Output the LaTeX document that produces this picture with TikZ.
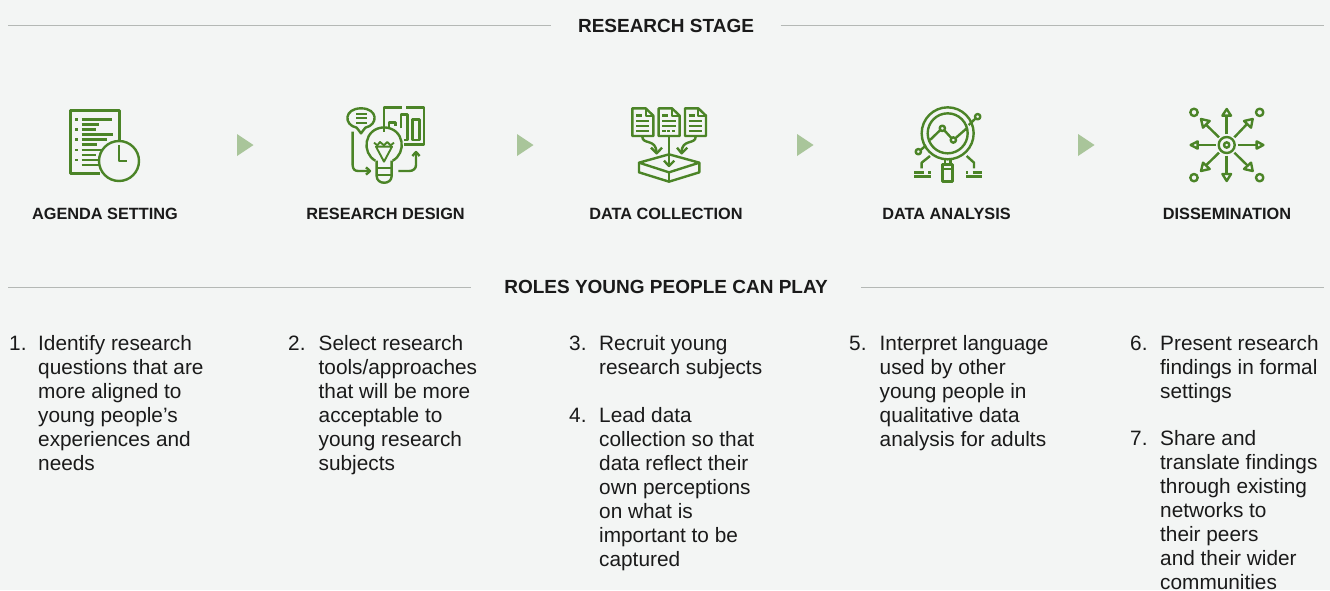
\documentclass[tikz,border=0pt]{standalone}
\usepackage{fontspec}
\setmainfont{Liberation Sans}
\definecolor{bgc}{HTML}{F3F5F4}
\definecolor{leaf}{HTML}{4B8427}
\definecolor{pale}{HTML}{A9C59A}
\definecolor{rulec}{HTML}{B4B8B5}
\definecolor{ink}{HTML}{1A1A1A}
\tikzset{
  ico/.style={draw=leaf,line width=2.4pt,line cap=butt,line join=round,fill=none},
  thin ico/.style={draw=leaf,line width=1.9pt,line join=round,fill=none},
  bar ico/.style={draw=leaf,line width=2.6pt,fill=none},
  chevron/.style={fill=pale,draw=none},
  rulel/.style={draw=rulec,line width=0.7pt},
  heading/.style={font=\fontsize{19}{22}\selectfont\bfseries,text=ink,inner ysep=0pt,fill=none},
  stage/.style={font=\fontsize{16.3}{20}\selectfont\bfseries,text=ink,inner sep=0pt,anchor=base},
  body/.style={font=\fontsize{20.8}{24}\selectfont,text=ink,inner sep=0pt,anchor=north west,align=left},
  pic/.style={shift={(#1)},scale=1/3}
}
\begin{document}
\begin{tikzpicture}[x=1pt,y=-1pt]
\useasboundingbox (0,0) rectangle (1330,590);
\fill[bgc] (0,0) rectangle (1330,590);
% headings and rules
\node[heading,inner xsep=26.5pt] (h1) at (666,25.5) {RESEARCH STAGE};
\coordinate (h1l) at (8,25.5); \coordinate (h1r) at (1324,25.5);
\draw[rulel] (h1l) -- (h1.west); \draw[rulel] (h1.east) -- (h1r);
\node[heading,inner xsep=33pt] (h2) at (666,287) {ROLES YOUNG PEOPLE CAN PLAY};
\coordinate (h2l) at (8,287); \coordinate (h2r) at (1324,287);
\draw[rulel] (h2l) -- (h2.west); \draw[rulel] (h2.east) -- (h2r);
% chevrons
\foreach \x in {237,517,797,1078} \fill[chevron] (\x,134) -- (\x+16.5,145) -- (\x,156) -- cycle;
% icon 1
\begin{scope}[pic={50,90}]
\draw[ico] (150,251) -- (62,251) -- (62,62) -- (208,62) -- (208,150);
\foreach \y in {88,119,149,180,210} \draw[bar ico] (76,\y) -- (85,\y);
\foreach \y/\e in {88/187,104/148,119/138,134/190,149/172,164/142,180/155,195/138,210/146,225/146} \draw[bar ico] (95,\y) -- (\e,\y);
\draw[ico,fill=bgc] (207,213) circle[radius=60];
\draw[ico] (207,165) -- (207,213) -- (232,213);
\end{scope}
% icon 2
\begin{scope}[pic={330,90}]
\draw[ico] (80,113) .. controls (40,105) and (42,55) .. (93,55) .. controls (145,55) and (145,105) .. (106,113) -- (93,130) -- cycle;
\foreach \y/\a/\b in {72/78/110,85/78/110,98/78/110} \draw[thin ico] (\a,\y) -- (\b,\y);
\draw[ico] (68,125) -- (68,225) .. controls (68,238) and (75,243) .. (85,243) -- (118,243);
\draw[ico] (108,232) -- (120,243) -- (108,254);
\draw[ico] (162,125) -- (162,53) -- (215,53);
\draw[ico] (228,53) -- (282,53) -- (282,163) -- (222,163);
\draw[ico] (177,112) -- (177,98) -- (197,98) -- (197,108);
\draw[ico] (213,115) -- (213,73) -- (233,73) -- (233,150) -- (222,150);
\draw[ico] (247,88) rectangle (268,150);
\draw[ico] (136,212) .. controls (95,190) and (100,115) .. (162,112) .. controls (225,115) and (230,190) .. (188,212);
\draw[thin ico] (132,158) -- (142,166) -- (150,156) -- (162,166) -- (172,156) -- (182,166) -- (192,158);
\draw[thin ico] (138,170) -- (162,215) -- (186,170) -- cycle;
\draw[ico] (140,212) -- (140,258) .. controls (140,285) and (185,285) .. (185,258) -- (185,212);
\draw[thin ico] (140,234) -- (185,234);
\draw[thin ico] (140,256) -- (185,256);
\draw[ico] (205,243) -- (238,243) .. controls (250,243) and (258,235) .. (258,225) -- (258,188);
\draw[ico] (247,198) -- (258,186) -- (269,198);
\end{scope}
% icon 3
\begin{scope}[pic={615,95}]
\foreach \d in {0,79,158}{
  \draw[ico] (52+\d,40) -- (92+\d,40) -- (115+\d,62) -- (115+\d,123) -- (52+\d,123) -- cycle;
  \draw[thin ico] (92+\d,40) -- (92+\d,62) -- (115+\d,62);
  \draw[bar ico] (63+\d,61) -- (81+\d,61);
  \draw[bar ico] (63+\d,78) -- (103+\d,78);
  \draw[bar ico] (63+\d,93) -- (103+\d,93);
}
\draw[bar ico] (63,108) -- (103,108);
\draw[bar ico] (221,108) -- (261,108);
\foreach \x in {142,156,170} \draw[bar ico] (\x,108) -- (\x+10,108);
\draw[ico] (82,125) .. controls (82,150) and (124,130) .. (124,172);
\draw[ico] (108,158) -- (125,175) -- (141,158);
\draw[ico] (162,125) -- (162,210);
\draw[ico] (147,197) -- (162,213) -- (178,197);
\draw[ico] (242,125) .. controls (242,150) and (200,130) .. (200,172);
\draw[ico] (186,158) -- (200,175) -- (217,158);
\draw[ico] (162,178) -- (253,203) -- (162,232) -- (72,203) -- cycle;
\draw[ico] (72,203) -- (72,232) -- (162,260) -- (253,232) -- (253,203);
\draw[ico] (162,232) -- (162,260);
\end{scope}
% icon 4
\begin{scope}[pic={900,95}]
\draw[ico] (143,115) circle[radius=78];
\draw[ico] (143,115) circle[radius=60];
\draw[ico] (135,193) -- (135,208); \draw[ico] (151,193) -- (151,208);
\draw[ico] (128,208) rectangle (158,260);
\draw[thin ico] (128,222) -- (158,222);
\draw[ico] (90,135) -- (120,106); \draw[ico] (133,106) -- (154,129); \draw[ico] (167,129) -- (200,100);
\draw[ico] (127,100) circle[radius=8];
\draw[ico] (160,135) circle[radius=8];
\draw[ico] (233,65) circle[radius=8];
\draw[ico] (55,170) circle[radius=8];
\draw[ico] (226,71) -- (206,90);
\draw[ico] (62,165) -- (78,151);
\draw[ico] (90,183) -- (65,203) -- (65,220);
\draw[ico] (200,183) -- (222,203) -- (222,220);
\draw[ico] (42,232) -- (72,232); \draw[ico] (85,232) -- (92,232); \draw[ico] (42,245) -- (92,245);
\draw[ico] (198,232) -- (205,232); \draw[ico] (218,232) -- (247,232); \draw[ico] (198,245) -- (247,245);
\end{scope}
% icon 5
\begin{scope}[pic={1175,95}]
\draw[ico] (155,150) circle[radius=24];
\draw[ico] (155,150) circle[radius=8];
\foreach \x/\y in {57/52,254/52,57/248,254/248} \draw[ico] (\x,\y) circle[radius=11];
\draw[ico] (155,118) -- (155,62); \draw[ico] (142,62) -- (155,42) -- (168,62) -- cycle;
\draw[ico] (155,182) -- (155,237); \draw[ico] (142,237) -- (155,258) -- (168,237) -- cycle;
\draw[ico] (122,150) -- (68,150); \draw[ico] (68,139) -- (47,150) -- (68,161) -- cycle;
\draw[ico] (188,150) -- (245,150); \draw[ico] (245,139) -- (265,150) -- (245,161) -- cycle;
\draw[ico] (178,127) -- (218,85); \draw[ico] (207,78) -- (233,72) -- (228,98) -- cycle;
\draw[ico] (132,127) -- (92,88); \draw[ico] (104,78) -- (78,72) -- (84,98) -- cycle;
\draw[ico] (132,173) -- (92,212); \draw[ico] (84,203) -- (78,228) -- (104,222) -- cycle;
\draw[ico] (178,173) -- (218,212); \draw[ico] (228,203) -- (233,228) -- (207,222) -- cycle;
\end{scope}
% stage labels
\node[stage] (s1) at (105,219) {AGENDA SETTING};
\node[stage] (s2) at (385.5,219) {RESEARCH DESIGN};
\node[stage] (s3) at (666,219) {DATA COLLECTION};
\node[stage] (s4) at (946.5,219) {DATA ANALYSIS};
\node[stage] (s5) at (1227,219) {DISSEMINATION};
% role lists
\node[body] (n1) at (9,335.5) {1.};
\node[body] (t1) at (38,335.5) {Identify research\\questions that are\\more aligned to\\young people’s\\experiences and\\needs};
\node[body] (n2) at (288,335.5) {2.};
\node[body] (t2) at (318.5,335.5) {Select research\\tools/approaches\\that will be more\\acceptable to\\young research\\subjects};
\node[body] (n3) at (569,335.5) {3.};
\node[body] (t3) at (599,335.5) {Recruit young\\research subjects};
\node[body] (n4) at (569,407.5) {4.};
\node[body] (t4) at (599,407.5) {Lead data\\collection so that\\data reflect their\\own perceptions\\on what is\\important to be\\captured};
\node[body] (n5) at (849,335.5) {5.};
\node[body] (t5) at (879.5,335.5) {Interpret language\\used by other\\young people in\\qualitative data\\analysis for adults};
\node[body] (n6) at (1130,335.5) {6.};
\node[body] (t6) at (1160,335.5) {Present research\\findings in formal\\settings};
\node[body] (n7) at (1130,430.5) {7.};
\node[body] (t7) at (1160,430.5) {Share and\\translate findings\\through existing\\networks to\\their peers\\and their wider\\communities};
\end{tikzpicture}
\end{document}
